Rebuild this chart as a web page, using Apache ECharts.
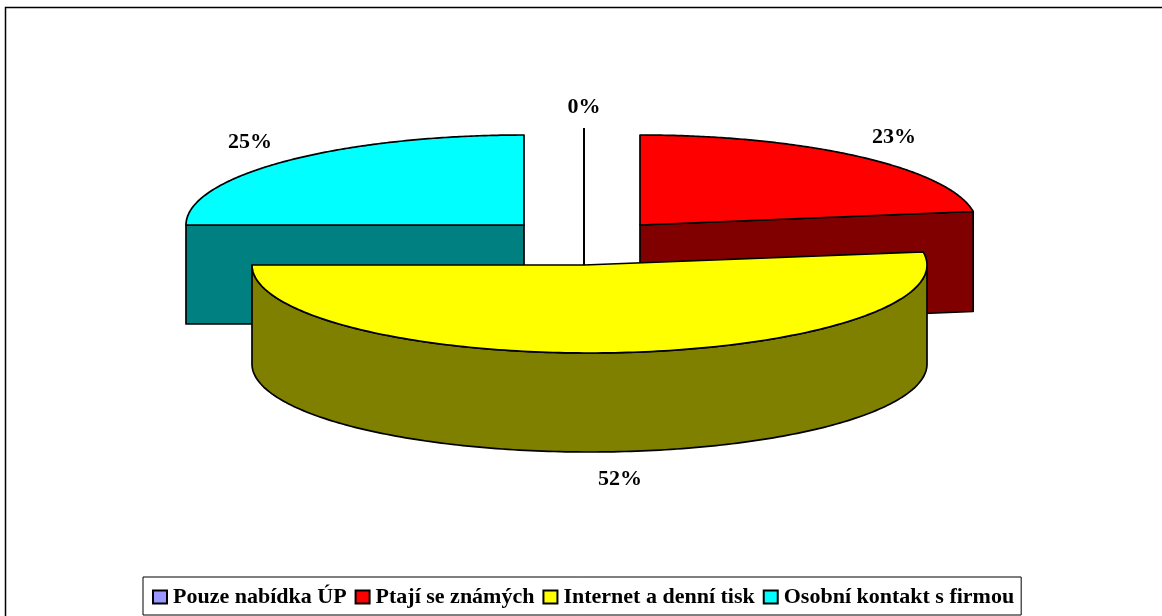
<!DOCTYPE html>
<html>
<head>
<meta charset="utf-8">
<style>html,body{margin:0;padding:0;background:#fff}#c{width:1162px;height:616px}</style>
<script src="https://cdn.jsdelivr.net/npm/echarts@6/dist/echarts.min.js"></script>
</head>
<body>
<div id="c"></div>
<script>
// Data
const categories = ['Pouze nabídka ÚP', 'Ptají se známých', 'Internet a denní tisk', 'Osobní kontakt s firmou'];
const shares = [0, 22.6, 52.4, 25];

// Styling and layout of the drawn pie
const faceColors = ['#9999FF', '#FF0000', '#FFFF00', '#00FFFF'];
const wallColors = ['#666699', '#800000', '#808000', '#008080'];
const sliceLayout = [
  {cx: 584, cy: 265, rx: 337, ry: 137, depth: 0, ax: 584, labelX: 584, labelY: 107},
  {cx: 640, cy: 225, rx: 337, ry: 90, depth: 100, ax: 640, labelX: 894, labelY: 137},
  {cx: 589.5, cy: 265, rx: 337.5, ry: 88, depth: 99, ax: 584, labelX: 620, labelY: 479},
  {cx: 524, cy: 225, rx: 338, ry: 90, depth: 99, ax: 524, labelX: 250, labelY: 142}
];
const drawOrder = [3, 1, 0, 2];
const total = shares.reduce((a, b) => a + b, 0);
const STROKE = {stroke: '#000', lineWidth: 1.7, lineJoin: 'round'};

function startAngle(i) {
  return shares.slice(0, i).reduce((a, b) => a + b, 0) / total * Math.PI * 2;
}
function renderSlice(i, value) {
  const g = sliceLayout[i];
  const a0 = startAngle(i), a1 = a0 + value / total * Math.PI * 2;
  const pt = (t, dy) => [g.cx + g.rx * Math.sin(t), g.cy - g.ry * Math.cos(t) + (dy || 0)];
  const children = [];
  const labelStyle = {
    text: Math.round(value) + '%', x: g.labelX, y: g.labelY, align: 'center', verticalAlign: 'middle',
    fontFamily: '"Liberation Serif"', fontWeight: 'bold', fontSize: 22, fill: '#000'
  };
  if (value === 0) {
    const top = pt(a0);
    children.push({type: 'line', shape: {x1: top[0], y1: top[1], x2: g.ax, y2: g.cy}, style: {stroke: '#000', lineWidth: 2}});
    children.push({type: 'text', style: labelStyle});
    return {type: 'group', children};
  }
  const apex = [g.ax, g.cy];
  const wallFor = (t) => {
    const p = pt(t);
    return {type: 'polygon', shape: {points: [apex, p, [p[0], p[1] + g.depth], [apex[0], apex[1] + g.depth]]},
      style: Object.assign({fill: wallColors[i]}, STROKE)};
  };
  if (Math.sin(a0) < -1e-6) children.push(wallFor(a0));
  if (Math.sin(a1) > 1e-6) children.push(wallFor(a1));
  // curved outer wall on the front half of the ellipse
  const w0 = Math.max(a0, Math.PI / 2), w1 = Math.min(a1, Math.PI * 1.5);
  if (w1 > w0) {
    const arc = [];
    for (let k = 0; k <= 180; k++) arc.push(pt(w0 + (w1 - w0) * k / 180));
    const low = arc.map(p => [p[0], p[1] + g.depth]).reverse();
    children.push({type: 'polygon', shape: {points: arc.concat(low)}, style: Object.assign({fill: wallColors[i]}, STROKE)});
  }
  // top face
  const face = [apex];
  for (let k = 0; k <= 180; k++) face.push(pt(a0 + (a1 - a0) * k / 180));
  children.push({type: 'polygon', shape: {points: face}, style: Object.assign({fill: faceColors[i]}, STROKE)});
  children.push({type: 'text', style: labelStyle});
  return {type: 'group', children};
}

const series = drawOrder.map(i => ({
  type: 'custom',
  name: categories[i],
  coordinateSystem: 'none',
  silent: true,
  animation: false,
  itemStyle: {color: faceColors[i], borderColor: '#000', borderWidth: 1},
  data: [[shares[i]]],
  encode: {value: 0},
  renderItem: (params, api) => renderSlice(i, api.value(0))
}));

const chart = echarts.init(document.getElementById('c'));
chart.setOption({
  animation: false,
  backgroundColor: '#fff',
  graphic: [
    {type: 'polyline', silent: true, shape: {points: [[5.5, 616], [5.5, 7.5], [1162, 7.5]]}, style: {fill: null, stroke: '#000', lineWidth: 1.5}}
  ],
  legend: {
    data: categories,
    left: 143, top: 577,
    width: 980, height: 22,
    orient: 'horizontal',
    selectedMode: false,
    backgroundColor: '#fff',
    borderColor: '#000', borderWidth: 1,
    padding: [9, 7, 7, 9],
    itemWidth: 14, itemHeight: 13, itemGap: 8,
    icon: 'rect',
    textStyle: {fontFamily: '"Liberation Serif"', fontWeight: 'bold', fontSize: 22, color: '#000', padding: [0, 0, 0, 1]}
  },
  series
});
</script>
</body>
</html>
